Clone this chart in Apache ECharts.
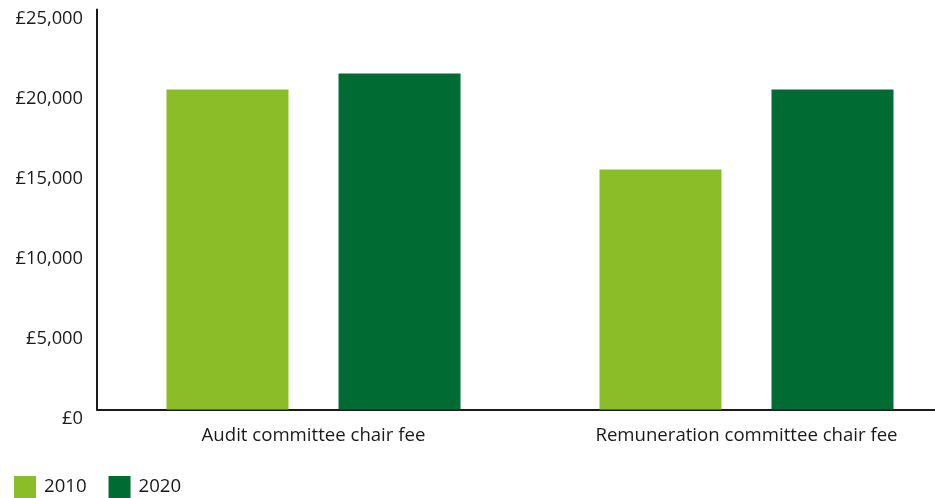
<!DOCTYPE html>
<html><head><meta charset="utf-8">
<script src="https://cdn.jsdelivr.net/npm/echarts@6/dist/echarts.min.js"></script>
<style>html,body{margin:0;padding:0;background:#fff}#c{width:935px;height:498px}</style>
</head><body><div id="c"></div>
<script>
var categories = ['Audit committee chair fee', 'Remuneration committee chair fee'];
var series2010 = [20000, 15000];
var series2020 = [21000, 20000];
var yTicks = [0, 5000, 10000, 15000, 20000, 25000];

var chart = echarts.init(document.getElementById('c'));
var font = '"Open Sans", "Noto Sans", sans-serif';
chart.setOption({
  animation: false,
  grid: { left: 97, width: 866, top: 9.5, height: 400, containLabel: false, outerBoundsMode: 'none' },
  legend: {
    left: 14, top: 476, padding: 0, itemWidth: 22, itemHeight: 22, itemGap: 22,
    icon: 'rect',
    textStyle: { fontFamily: font, fontSize: 18.6, color: '#1a1a1a', padding: [0, 0, 0, 3] },
    data: ['2010', '2020']
  },
  xAxis: {
    type: 'category', data: categories,
    axisLine: { lineStyle: { color: '#1a1a1a', width: 2 } },
    axisTick: { show: false },
    axisLabel: { fontFamily: font, fontSize: 18.6, color: '#1a1a1a', margin: 17 }
  },
  yAxis: {
    type: 'value', min: 0, max: 25000, interval: 5000,
    axisLine: { show: true, lineStyle: { color: '#1a1a1a', width: 2 } },
    axisTick: { show: false },
    splitLine: { show: false },
    axisLabel: {
      fontFamily: font, fontSize: 18.3, color: '#1a1a1a', margin: 14,
      verticalAlign: 'top', lineHeight: 18,
      formatter: function (v) { return '£' + v.toLocaleString('en-GB'); }
    }
  },
  series: [
    { name: '2010', type: 'bar', data: series2010, barWidth: 122, barGap: '41%', itemStyle: { color: '#8ABD28' } },
    { name: '2020', type: 'bar', data: series2020, barWidth: 122, itemStyle: { color: '#006B32' } }
  ]
});
</script></body></html>
